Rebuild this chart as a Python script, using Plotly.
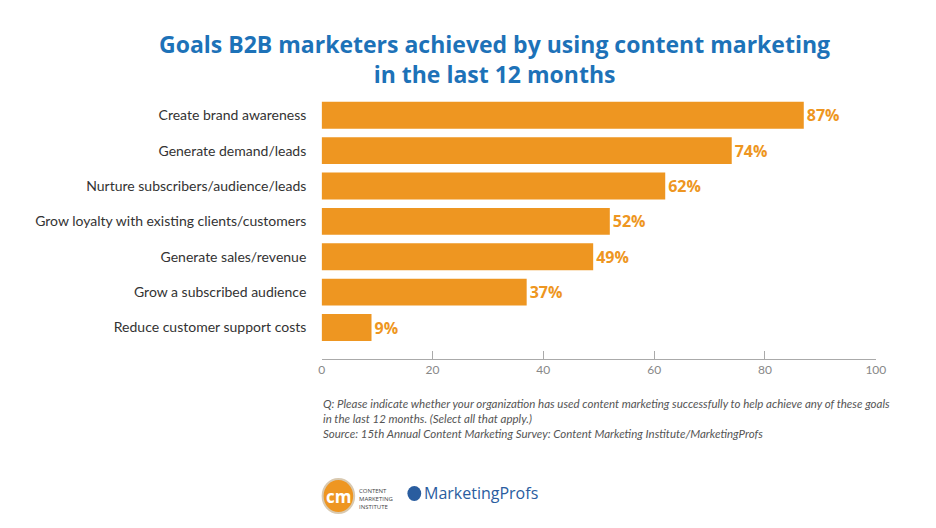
import plotly.graph_objects as go

categories = ["Create brand awareness", "Generate demand/leads", "Nurture subscribers/audience/leads",
              "Grow loyalty with existing clients/customers", "Generate sales/revenue",
              "Grow a subscribed audience", "Reduce customer support costs"]
values = [87, 74, 62, 52, 49, 37, 9]
labels = [f"{v}%" for v in values]
tick_vals = [0, 20, 40, 60, 80, 100]

W, H = 936, 528
def px(x): return x / W
def py(y): return 1 - y / H

orange = "#ee9621"
fig = go.Figure(go.Bar(
    x=values, y=categories, orientation="h", marker=dict(color=orange, line=dict(width=0)),
    width=0.76, text=labels, textposition="outside", cliponaxis=False,
    textfont=dict(color=orange, size=16, family="Open Sans", weight="bold"),
))
fig.update_layout(
    width=W, height=H, margin=dict(l=0, r=0, t=0, b=0),
    plot_bgcolor="white", paper_bgcolor="white", showlegend=False,
    font=dict(family="Open Sans", color="#333"),
    xaxis=dict(domain=[px(315), px(877)], range=[0, 100], tickvals=tick_vals,
               showgrid=False, zeroline=False, showline=True, linecolor="#aaa", linewidth=1,
               ticks="inside", ticklen=8, tickcolor="#aaa",
               tickfont=dict(size=12, color="#888", family="Lato")),
    yaxis=dict(domain=[py(351), py(86)], range=[6.89, -0.6], type="category",
               showgrid=False, zeroline=False, ticks="", ticksuffix="    ",
               tickfont=dict(size=14, color="#333", family="Lato")),
)
fig.add_annotation(x=px(490), y=py(51), xref="paper", yref="paper", xanchor="center", yanchor="middle",
                   showarrow=False,
                   text="Goals B2B marketers achieved by using content marketing<br>in the last 12 months",
                   font=dict(size=23, color="#1d72b8", family="Open Sans", weight="bold"))
note = ("<i>Q: Please indicate whether your organization has used content marketing successfully to help achieve any of these goals<br>"
        "in the last 12 months. (Select all that apply.)<br>"
        "Source: 15th Annual Content Marketing Survey: Content Marketing Institute/MarketingProfs</i>")
fig.add_annotation(x=px(314), y=py(387), xref="paper", yref="paper", xanchor="left", yanchor="top",
                   showarrow=False, align="left", text=note,
                   font=dict(size=11.5, color="#555", family="Lato"))
# logos
fig.add_shape(type="circle", xref="paper", yref="paper", x0=px(316), x1=px(348), y0=py(505), y1=py(471),
              fillcolor=orange, line=dict(color="#d9c9b0", width=2))
fig.add_annotation(x=px(332), y=py(488), xref="paper", yref="paper", xanchor="center", yanchor="middle",
                   showarrow=False, text="<b>cm</b>",
                   font=dict(size=17, color="white", family="Open Sans"))
fig.add_annotation(x=px(351), y=py(477), xref="paper", yref="paper", xanchor="left", yanchor="top",
                   showarrow=False, align="left", text="CONTENT<br>MARKETING<br>INSTITUTE",
                   font=dict(size=6, color="#444", family="Open Sans"))
fig.add_shape(type="circle", xref="paper", yref="paper", x0=px(402), x1=px(416), y0=py(493), y1=py(478),
              fillcolor="#2a5d9f", line=dict(width=0))
fig.add_annotation(x=px(417), y=py(485), xref="paper", yref="paper", xanchor="left", yanchor="middle",
                   showarrow=False,
                   text="MarketingProfs", font=dict(size=16, color="#2a5d9f", family="Open Sans"))
fig.write_html("out.html")
